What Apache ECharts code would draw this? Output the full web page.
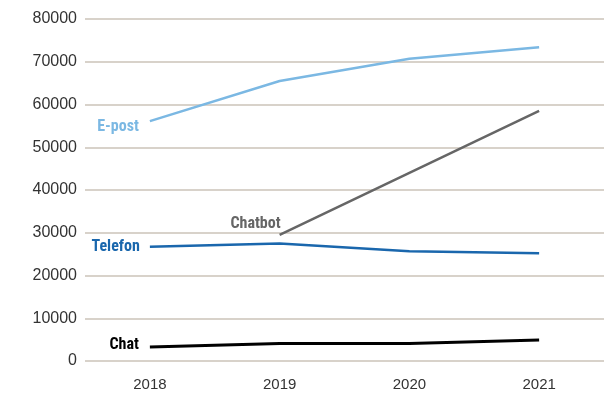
<!DOCTYPE html>
<html><head><meta charset="utf-8">
<script src="https://cdn.jsdelivr.net/npm/echarts@6/dist/echarts.min.js"></script>
<style>html,body{margin:0;padding:0;background:#fff}#c{width:604px;height:395px}</style>
</head><body><div id="c"></div>
<script>
const categories = ['2018', '2019', '2020', '2021'];
const epost = [56100, 65500, 70700, 73400];
const chatbot = [null, 29500, 44000, 58500];
const telefon = [26700, 27500, 25700, 25200];
const chat = [3300, 4100, 4100, 4900];
const yTicks = [0, 10000, 20000, 30000, 40000, 50000, 60000, 70000, 80000];

const labFont = '"Liberation Sans Narrow", "Roboto Condensed", "Arial Narrow", sans-serif';
function withLabel(arr, idx, text, color, pos) {
  return arr.map((v, i) => i === idx ? {
    value: v,
    label: { show: true, formatter: text, position: pos, align: 'right', verticalAlign: 'middle',
      color: color, fontFamily: labFont, fontWeight: 'bold', fontSize: 16 }
  } : v);
}
function lineSeries(data, color, width) {
  return { type: 'line', data: data, symbol: 'circle', symbolSize: 0.01, showSymbol: true,
    lineStyle: { color: color, width: width }, itemStyle: { color: color },
    labelLayout: { hideOverlap: false } };
}
const chart = echarts.init(document.getElementById('c'));
chart.setOption({
  animation: false,
  grid: { left: 85, right: -5, top: 19, bottom: 34 },
  xAxis: {
    type: 'category', data: categories, boundaryGap: true,
    axisLine: { show: false }, axisTick: { show: false },
    axisLabel: { color: '#333', fontSize: 15, fontFamily: 'Liberation Sans', margin: 16 }
  },
  yAxis: {
    type: 'value', min: yTicks[0], max: yTicks[yTicks.length - 1], interval: 10000,
    axisLine: { show: false }, axisTick: { show: false },
    axisLabel: { color: '#333', fontSize: 16, fontFamily: 'Liberation Sans', margin: 8,
      formatter: v => String(v) },
    splitLine: { lineStyle: { color: '#cbc3b8', width: 1.5 } }
  },
  series: [
    lineSeries(withLabel(epost, 0, 'E-post', '#7bb8e3', [-11, 6]), '#7bb8e3', 2.5),
    lineSeries(withLabel(chatbot, 1, 'Chatbot', '#666666', [1, -11]), '#666666', 2.5),
    lineSeries(withLabel(telefon, 0, 'Telefon', '#1a67ad', [-10, 0]), '#1a67ad', 2.5),
    lineSeries(withLabel(chat, 0, 'Chat', '#000000', [-11, -2]), '#000000', 3)
  ]
});
</script></body></html>
